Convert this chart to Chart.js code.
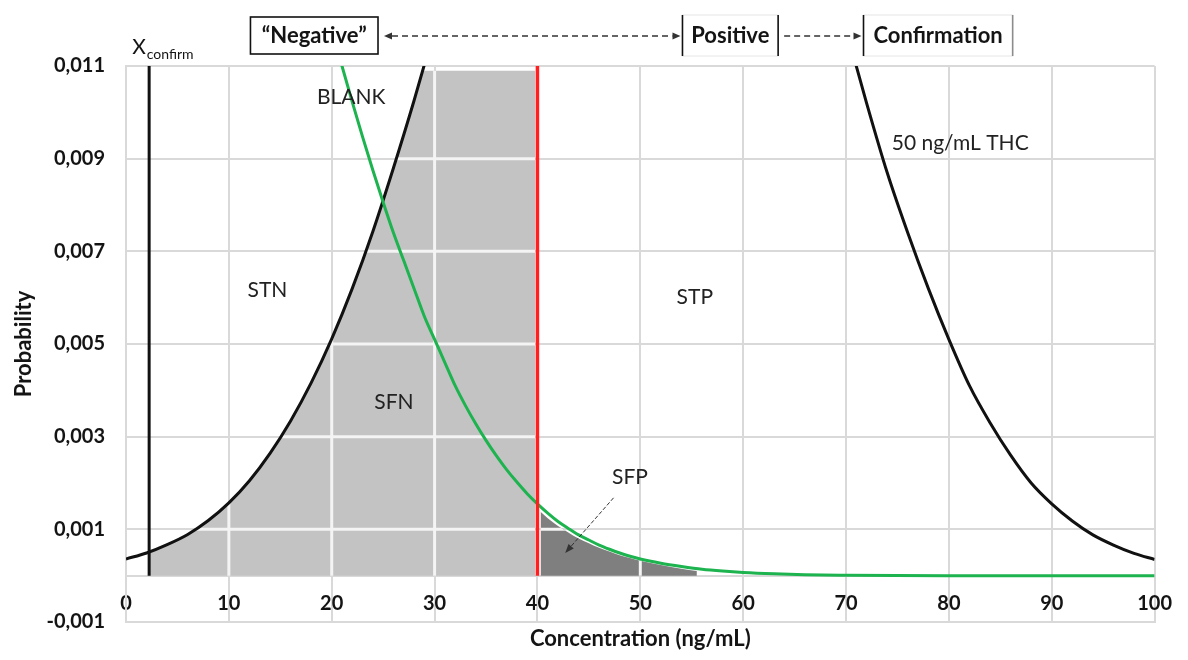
<!DOCTYPE html>
<html>
<head>
<meta charset="utf-8">
<title>Concentration vs probability</title>
<script src="https://cdn.jsdelivr.net/npm/chart.js@4.4.1/dist/chart.umd.min.js"></script>
<style>
  html, body { margin: 0; padding: 0; background: #ffffff; }
  #wrap { width: 1188px; height: 660px; position: relative; }
</style>
</head>
<body>
<div id="wrap"><canvas id="chart"></canvas></div>
<script>
// Decision limits (ng/mL)
const X_CONFIRM = 2.25;
const CUTOFF = 40;

// 50 ng/mL THC distribution: only its tails fall inside the plotted range
const thcX = [0, 2, 4, 6, 8, 10, 12, 14, 16, 18, 20, 22, 24, 26, 28, 30,
              50,
              70, 72, 74, 76, 78, 80, 82, 84, 86, 88, 90, 92, 94, 96, 98, 100];
const thcY = [0.00036, 0.00049, 0.00067, 0.00089, 0.00119, 0.00157, 0.00205, 0.00264, 0.00334, 0.00416, 0.00511, 0.0062, 0.00743, 0.0088, 0.01025, 0.0118,
              null,
              0.0118, 0.0102, 0.0087, 0.0074, 0.0062, 0.0051, 0.0041, 0.0033, 0.0026, 0.0020, 0.00155, 0.00118, 0.00088, 0.00066, 0.00048, 0.00035];

// Blank distribution
const blankX = [20, 21, 22, 23, 24, 25, 26, 27, 28, 29, 30, 31, 32, 33, 34, 35, 36, 37, 38, 39, 40,
                41, 42, 43, 44, 45, 46, 47, 48, 49, 50, 52, 54, 56, 58, 60, 63, 66, 70, 80, 90, 100];
const blankY = [0.0118, 0.0110, 0.01022, 0.00947, 0.00875, 0.00806, 0.0074, 0.0068, 0.0062, 0.0056, 0.0051, 0.0046, 0.0041, 0.00367, 0.00328, 0.00292, 0.00259, 0.00229, 0.00202, 0.00177, 0.00155,
                0.00135, 0.00117, 0.00102, 0.00088, 0.00077, 0.00066, 0.00057, 0.00049, 0.00042, 0.00036, 0.00027, 0.0002, 0.00014, 0.0001, 0.00007, 0.00004, 0.00002, 0.00001, 0, 0, 0];

// Shaded areas: SFN (under the THC curve, between X_confirm and the cut-off)
const sfnX = [2.25, 4, 6, 8, 10, 12, 14, 16, 18, 20, 22, 24, 26, 28, 28.9, 39.8];
const sfnY = [0.0005, 0.00067, 0.00089, 0.00119, 0.00157, 0.00205, 0.00264, 0.00334, 0.00416, 0.00511, 0.0062, 0.00743, 0.0088, 0.01025, 0.0109, 0.0109];

// SFP (blank tail above the cut-off)
const sfpX = [40.3, 41, 42, 43, 44, 45, 46, 47, 48, 49, 50, 52, 54, 55.5];
const sfpY = [0.00138, 0.00124, 0.00107, 0.00093, 0.0008, 0.0007, 0.0006, 0.00052, 0.00044, 0.00038, 0.00032, 0.00023, 0.00015, 0.0001];

// Axis ranges and ticks
const xTicks = { min: 0, max: 100, step: 10 };
const yTicks = { min: -0.001, max: 0.011, step: 0.002 };

const FONT = 'Lato, "Open Sans", "DejaVu Sans", sans-serif';
const GRID = '#d9d9d9';
const INK = '#141414';

const pts = (xs, ys) => xs.map((x, i) => ({ x: x, y: ys[i] }));

// White grid lines showing through the shaded areas
const shadeGrid = {
  id: 'shadeGrid',
  afterDatasetDraw(chart, args) {
    const ds = chart.data.datasets[args.index];
    if (!ds.shade) return;
    const els = args.meta.data;
    if (!els.length) return;
    const { ctx, chartArea: a, scales } = chart;
    const base = scales.y.getPixelForValue(0);
    ctx.save();
    ctx.beginPath();
    ctx.rect(a.left, a.top, a.width, a.height);
    ctx.clip();
    ctx.beginPath();
    ctx.moveTo(els[0].x, base);
    els.forEach(p => ctx.lineTo(p.x, p.y));
    ctx.lineTo(els[els.length - 1].x, base);
    ctx.closePath();
    ctx.clip();
    ctx.strokeStyle = '#f4f4f4';
    ctx.lineWidth = 3;
    ctx.beginPath();
    scales.x.ticks.forEach(t => {
      const px = scales.x.getPixelForValue(t.value);
      ctx.moveTo(px, a.top); ctx.lineTo(px, a.bottom);
    });
    scales.y.ticks.forEach(t => {
      const py = scales.y.getPixelForValue(t.value);
      ctx.moveTo(a.left, py); ctx.lineTo(a.right, py);
    });
    ctx.stroke();
    ctx.restore();
  }
};

function arrowHead(ctx, x, y, angle, len, half) {
  ctx.save();
  ctx.translate(x, y);
  ctx.rotate(angle);
  ctx.beginPath();
  ctx.moveTo(0, 0);
  ctx.lineTo(-len, -half);
  ctx.lineTo(-len, half);
  ctx.closePath();
  ctx.fill();
  ctx.restore();
}

function dashedArrow(ctx, x1, y1, x2, y2, opts) {
  const ang = Math.atan2(y2 - y1, x2 - x1);
  const len = opts.head || 8;
  ctx.save();
  ctx.strokeStyle = opts.color;
  ctx.fillStyle = opts.color;
  ctx.lineWidth = opts.width;
  ctx.setLineDash(opts.dash);
  const sx = opts.both ? x1 + Math.cos(ang) * len : x1;
  const sy = opts.both ? y1 + Math.sin(ang) * len : y1;
  ctx.beginPath();
  ctx.moveTo(sx, sy);
  ctx.lineTo(x2 - Math.cos(ang) * len, y2 - Math.sin(ang) * len);
  ctx.stroke();
  ctx.setLineDash([]);
  arrowHead(ctx, x2, y2, ang, len, opts.half || 4);
  if (opts.both) arrowHead(ctx, x1, y1, ang + Math.PI, len, opts.half || 4);
  ctx.restore();
}

// Region labels, decision boxes and the X_confirm marker label
const annotations = {
  id: 'annotations',
  afterDraw(chart) {
    const { ctx, scales: { x, y } } = chart;
    ctx.save();
    ctx.fillStyle = '#222';
    ctx.textAlign = 'center';
    ctx.textBaseline = 'middle';
    ctx.font = '21px ' + FONT;
    [
      ['BLANK', 21.9, 0.01033],
      ['STN', 13.75, 0.00617],
      ['SFN', 26.05, 0.00375],
      ['STP', 55.3, 0.0060],
      ['SFP', 49.0, 0.00213],
      ['50 ng/mL THC', 81.1, 0.00934]
    ].forEach(([t, vx, vy]) => ctx.fillText(t, x.getPixelForValue(vx), y.getPixelForValue(vy)));

    // pointer from the SFP label to its area
    dashedArrow(ctx, x.getPixelForValue(47.4), y.getPixelForValue(0.00168),
                x.getPixelForValue(42.7), y.getPixelForValue(0.00049),
                { color: '#333', width: 1, dash: [4, 2], head: 9, half: 3.5 });

    // X_confirm
    ctx.fillStyle = INK;
    ctx.textAlign = 'left';
    ctx.textBaseline = 'alphabetic';
    const xc = x.getPixelForValue(X_CONFIRM) - 17;
    ctx.font = '21px ' + FONT;
    ctx.fillText('X', xc, 54);
    const wX = ctx.measureText('X').width;
    ctx.font = '14px ' + FONT;
    ctx.fillText('confirm', xc + wX + 1, 59);

    // decision boxes along the top
    const boxTop = 17, boxBot = 54, midY = 36;
    ctx.font = 'bold 22px ' + FONT;
    ctx.textAlign = 'center';
    ctx.textBaseline = 'middle';

    const nL = x.getPixelForValue(12.1), nR = x.getPixelForValue(24.5);
    ctx.fillStyle = '#fff';
    ctx.fillRect(nL, boxTop, nR - nL, boxBot - boxTop);
    ctx.strokeStyle = '#111';
    ctx.lineWidth = 1.6;
    ctx.strokeRect(nL, boxTop, nR - nL, boxBot - boxTop);
    ctx.fillStyle = INK;
    ctx.fillText('\u201CNegative\u201D', (nL + nR) / 2, midY);

    function openBox(l, r, text, rightColor) {
      ctx.strokeStyle = '#e6e6e6';
      ctx.lineWidth = 1;
      ctx.strokeRect(l, boxTop - 2, r - l, boxBot - boxTop + 4);
      ctx.lineWidth = 1.6;
      ctx.strokeStyle = '#111';
      ctx.beginPath();
      ctx.moveTo(l, boxTop - 2); ctx.lineTo(l, boxBot + 2);
      ctx.stroke();
      ctx.strokeStyle = rightColor;
      ctx.beginPath();
      ctx.moveTo(r, boxTop - 2); ctx.lineTo(r, boxBot + 2);
      ctx.stroke();
      ctx.fillStyle = INK;
      ctx.fillText(text, (l + r) / 2, midY);
    }
    const pL = x.getPixelForValue(54.1), pR = x.getPixelForValue(63.4);
    const cL = x.getPixelForValue(71.7), cR = x.getPixelForValue(86.2);
    openBox(pL, pR, 'Positive', '#111');
    openBox(cL, cR, 'Confirmation', '#8c8c8c');

    dashedArrow(ctx, nR + 6, midY, pL - 2, midY,
                { color: '#333', width: 1.4, dash: [6, 4], head: 8, half: 3.5, both: true });
    dashedArrow(ctx, pR + 6, midY, cL - 2, midY,
                { color: '#333', width: 1.4, dash: [6, 4], head: 8, half: 3.5 });
    ctx.restore();
  }
};

const tickFont = { family: FONT, size: 20, weight: 'bold' };
const titleFont = { family: FONT, size: 22, weight: 'bold' };

new Chart(document.getElementById('chart'), {
  type: 'line',
  data: {
    datasets: [
      {
        label: 'SFN', shade: true, data: pts(sfnX, sfnY), order: 6,
        fill: 'origin', backgroundColor: '#c3c3c3', borderWidth: 0, pointRadius: 0,
        cubicInterpolationMode: 'monotone'
      },
      {
        label: 'SFP', shade: true, data: pts(sfpX, sfpY), order: 5,
        fill: 'origin', backgroundColor: '#7f7f7f', borderWidth: 0, pointRadius: 0,
        cubicInterpolationMode: 'monotone'
      },
      {
        label: '50 ng/mL THC', data: pts(thcX, thcY), order: 3,
        borderColor: '#111111', borderWidth: 3, pointRadius: 0, spanGaps: false,
        cubicInterpolationMode: 'monotone', fill: false
      },
      {
        label: 'BLANK', data: pts(blankX, blankY), order: 2,
        borderColor: '#1db34f', borderWidth: 3, pointRadius: 0,
        cubicInterpolationMode: 'monotone', fill: false
      },
      {
        label: 'Cut-off', data: [{ x: CUTOFF, y: 0 }, { x: CUTOFF, y: yTicks.max }], order: 1,
        borderColor: '#ff1f1f', borderWidth: 3.5, pointRadius: 0, fill: false
      },
      {
        label: 'X confirm', data: [{ x: X_CONFIRM, y: 0 }, { x: X_CONFIRM, y: yTicks.max }], order: 0,
        borderColor: '#111111', borderWidth: 3, pointRadius: 0, fill: false
      }
    ]
  },
  options: {
    responsive: true,
    maintainAspectRatio: false,
    animation: false,
    events: [],
    layout: { padding: { top: 66, right: 29, left: 0, bottom: 0 } },
    plugins: { legend: { display: false }, tooltip: { enabled: false } },
    scales: {
      x: {
        type: 'linear', position: 'bottom', min: xTicks.min, max: xTicks.max,
        ticks: { display: false, stepSize: xTicks.step },
        grid: { color: GRID, lineWidth: 2, drawTicks: false },
        border: { display: true, color: GRID, width: 2 },
        title: { display: true, text: 'Concentration (ng/mL)', font: titleFont, color: INK, padding: { top: 0, bottom: 8 } },
        afterFit(s) { s.height = 38; }
      },
      x2: {
        type: 'linear', position: { y: 0 }, min: xTicks.min, max: xTicks.max,
        ticks: { stepSize: xTicks.step, font: tickFont, color: INK, padding: 16, maxRotation: 0 },
        grid: { display: false, drawTicks: false },
        border: { display: true, color: GRID, width: 2 }
      },
      y: {
        type: 'linear', min: yTicks.min, max: yTicks.max,
        ticks: {
          stepSize: yTicks.step, font: tickFont, color: INK, padding: 21,
          callback: v => v.toFixed(3).replace('.', ',')
        },
        grid: { color: GRID, lineWidth: 2, drawTicks: false },
        border: { display: true, color: GRID, width: 2 },
        title: { display: true, text: 'Probability', font: titleFont, color: INK, padding: { top: 11, bottom: 0 } },
        afterFit(s) { s.width = 126; }
      }
    }
  },
  plugins: [shadeGrid, annotations]
});
</script>
</body>
</html>
